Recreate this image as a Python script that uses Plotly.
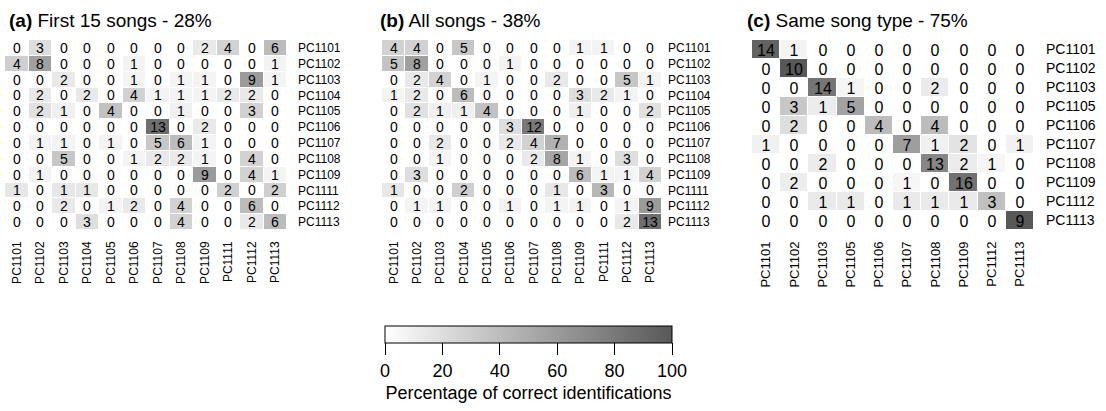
import plotly.graph_objects as go

W, H = 1106, 411
FONT = "Liberation Sans, Arial, Helvetica, sans-serif"

labels_ab = ["PC1101", "PC1102", "PC1103", "PC1104", "PC1105", "PC1106",
             "PC1107", "PC1108", "PC1109", "PC1111", "PC1112", "PC1113"]
labels_c = ["PC1101", "PC1102", "PC1103", "PC1105", "PC1106",
            "PC1107", "PC1108", "PC1109", "PC1112", "PC1113"]

counts_a = [
    [0, 3, 0, 0, 0, 0, 0, 0, 2, 4, 0, 6],
    [4, 8, 0, 0, 0, 1, 0, 0, 0, 0, 0, 1],
    [0, 0, 2, 0, 0, 1, 0, 1, 1, 0, 9, 1],
    [0, 2, 0, 2, 0, 4, 1, 1, 1, 2, 2, 0],
    [0, 2, 1, 0, 4, 0, 0, 1, 0, 0, 3, 0],
    [0, 0, 0, 0, 0, 0, 13, 0, 2, 0, 0, 0],
    [0, 1, 1, 0, 1, 0, 5, 6, 1, 0, 0, 0],
    [0, 0, 5, 0, 0, 1, 2, 2, 1, 0, 4, 0],
    [0, 1, 0, 0, 0, 0, 0, 0, 9, 0, 4, 1],
    [1, 0, 1, 1, 0, 0, 0, 0, 0, 2, 0, 2],
    [0, 0, 2, 0, 1, 2, 0, 4, 0, 0, 6, 0],
    [0, 0, 0, 3, 0, 0, 0, 4, 0, 0, 2, 6],
]
counts_b = [
    [4, 4, 0, 5, 0, 0, 0, 0, 1, 1, 0, 0],
    [5, 8, 0, 0, 0, 1, 0, 0, 0, 0, 0, 0],
    [0, 2, 4, 0, 1, 0, 0, 2, 0, 0, 5, 1],
    [1, 2, 0, 6, 0, 0, 0, 0, 3, 2, 1, 0],
    [0, 2, 1, 1, 4, 0, 0, 0, 1, 0, 0, 2],
    [0, 0, 0, 0, 0, 3, 12, 0, 0, 0, 0, 0],
    [0, 0, 2, 0, 0, 2, 4, 7, 0, 0, 0, 0],
    [0, 0, 1, 0, 0, 0, 2, 8, 1, 0, 3, 0],
    [0, 3, 0, 0, 0, 0, 0, 0, 6, 1, 1, 4],
    [1, 0, 0, 2, 0, 0, 0, 1, 0, 3, 0, 0],
    [0, 1, 1, 0, 0, 1, 0, 1, 1, 0, 1, 9],
    [0, 0, 0, 0, 0, 0, 0, 0, 0, 0, 2, 13],
]
counts_c = [
    [14, 1, 0, 0, 0, 0, 0, 0, 0, 0],
    [0, 10, 0, 0, 0, 0, 0, 0, 0, 0],
    [0, 0, 14, 1, 0, 0, 2, 0, 0, 0],
    [0, 3, 1, 5, 0, 0, 0, 0, 0, 0],
    [0, 2, 0, 0, 4, 0, 4, 0, 0, 0],
    [1, 0, 0, 0, 0, 7, 1, 2, 0, 1],
    [0, 0, 2, 0, 0, 0, 13, 2, 1, 0],
    [0, 2, 0, 0, 0, 1, 0, 16, 0, 0],
    [0, 0, 1, 1, 0, 1, 1, 1, 3, 0],
    [0, 0, 0, 0, 0, 0, 0, 0, 0, 9],
]

titles = ["<b>(a)</b> First 15 songs - 28%",
          "<b>(b)</b> All songs - 38%",
          "<b>(c)</b> Same song type - 75%"]
cbar_ticks = [0, 20, 40, 60, 80, 100]
cbar_title = "Percentage of correct identifications"


def pct(rows):
    out = []
    for r in rows:
        s = sum(r)
        out.append([100.0 * v / s if s else 0 for v in r])
    return out


def px_x(p):
    return p / W


def px_y(p):
    return 1 - p / H


fig = go.Figure()

panels = [
    (counts_a, labels_ab, (5, 287), 14, 12, 10),
    (counts_b, labels_ab, (382, 662), 14, 12, 5),
    (counts_c, labels_c, (752, 1034), 16, 14, 11),
]
title_x = [7, 378, 745]

for i, (cnt, labs, (x0, x1), tsize, lsize, standoff) in enumerate(panels):
    n = "" if i == 0 else str(i + 1)
    fig.add_trace(go.Heatmap(
        z=pct(cnt), x=labs, y=labs, text=cnt,
        texttemplate="%{text}",
        textfont=dict(family=FONT, size=tsize, color="black"),
        coloraxis="coloraxis", xgap=1, ygap=1,
        xaxis="x" + n, yaxis="y" + n, hoverinfo="skip",
    ))
    fig.layout["xaxis" + n] = dict(
        domain=[px_x(x0), px_x(x1)], anchor="y" + n, tickangle=-90,
        showgrid=False, zeroline=False, showline=False, ticks="",
        tickfont=dict(family=FONT, size=12 if i < 2 else 13, color="black"),
        ticklabelstandoff=8, type="category",
    )
    fig.layout["yaxis" + n] = dict(
        domain=[px_y(230), px_y(40)], anchor="x" + n, side="right",
        autorange="reversed", showgrid=False, zeroline=False, showline=False,
        ticks="", tickfont=dict(family=FONT, size=lsize, color="black"),
        ticklabelstandoff=standoff, type="category",
    )
    fig.add_annotation(
        text=titles[i], x=px_x(title_x[i]), y=px_y(20), xref="paper",
        yref="paper", xanchor="left", yanchor="middle", showarrow=False,
        font=dict(family=FONT, size=19, color="black"),
    )

fig.update_layout(
    width=W, height=H, margin=dict(l=0, r=0, t=0, b=0),
    paper_bgcolor="white", plot_bgcolor="white",
    coloraxis=dict(
        cmin=0, cmax=100,
        colorscale=[[0, "#ffffff"], [1, "#585858"]],
        colorbar=dict(
            orientation="h", x=px_x(528.5), xanchor="center",
            y=px_y(326), yanchor="top", len=287, lenmode="pixels",
            thickness=17, thicknessmode="pixels", xpad=0, ypad=0,
            outlinewidth=1, outlinecolor="black",
            ticks="outside", ticklen=12, tickwidth=1, tickcolor="black",
            tickvals=cbar_ticks,
            tickfont=dict(family=FONT, size=18, color="black"),
            title=dict(text=cbar_title, side="bottom",
                       font=dict(family=FONT, size=18, color="black")),
        ),
    ),
    showlegend=False,
)

fig.write_html("out.html")
